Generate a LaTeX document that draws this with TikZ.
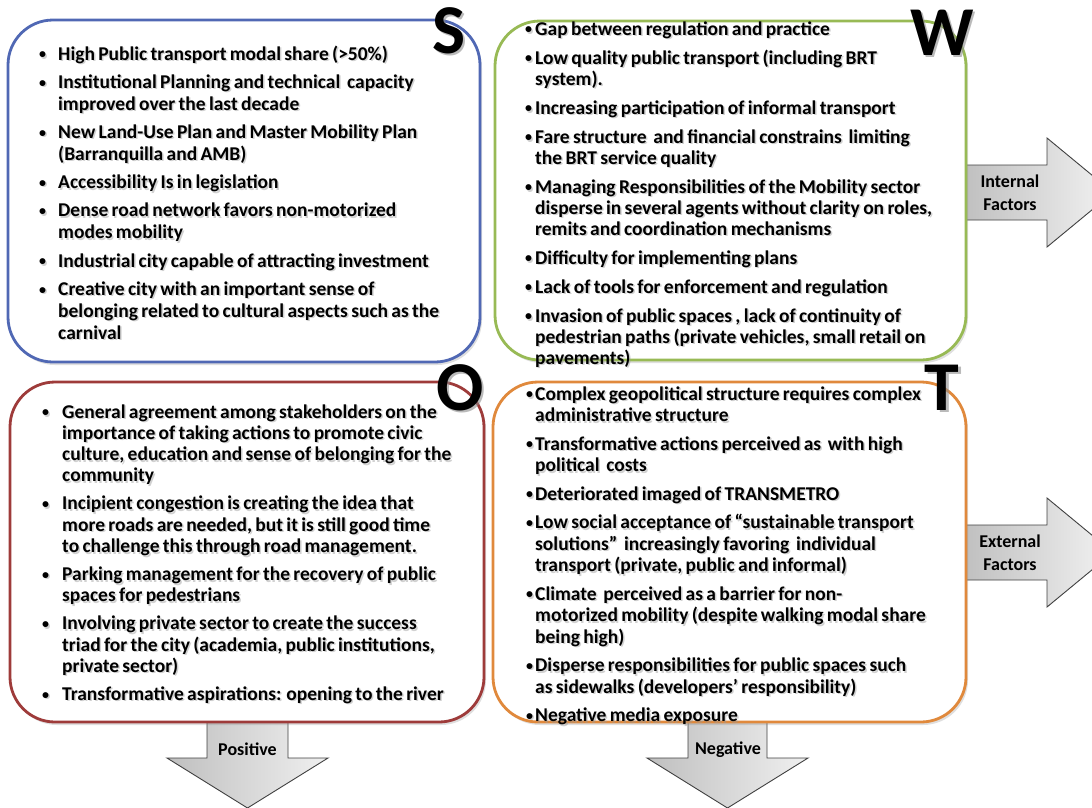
\documentclass[tikz,border=0pt]{standalone}
\usepackage{fontspec}
\setmainfont{Carlito}
\usetikzlibrary{shadows}

\definecolor{sblue}{HTML}{5068B4}
\definecolor{wgreen}{HTML}{98BA55}
\definecolor{ored}{HTML}{9E3B3A}
\definecolor{torange}{HTML}{E0893C}

% bullet list helpers for the four quadrants
\newlength\bulletgap
\newcommand\listsetup[3]{\fontsize{19.5}{#1}\selectfont\bfseries\setlength\parskip{#2}\setlength\bulletgap{#3}}
\newcommand\smallbullet{\raisebox{1.2pt}{\fontsize{14}{14}\selectfont\textbullet}}
\newcommand\firstitm[1]{\noindent\llap{\smallbullet\hspace{\bulletgap}}#1}
\newcommand\itm[1]{\par\noindent\llap{\smallbullet\hspace{\bulletgap}}#1}

\newcommand\Sitems{\listsetup{22pt}{6.2pt}{12pt}%
\firstitm{High Public transport modal share (>50\%)}
\itm{Institutional Planning and technical\ \ capacity\newline improved over the last decade}
\itm{New Land-Use Plan and Master Mobility Plan\newline (Barranquilla and AMB)}
\itm{Accessibility Is in legislation}
\itm{Dense road network favors non-motorized\newline modes mobility}
\itm{Industrial city capable of attracting investment}
\itm{Creative city with an important sense of\newline belonging related to cultural aspects such as the\newline carnival}\par}

\newcommand\Witems{\listsetup{21pt}{8pt}{3pt}%
\firstitm{Gap between regulation and practice}
\itm{Low quality public transport (including BRT\newline system).}
\itm{Increasing participation of informal transport}
\itm{Fare structure\ \ and financial constrains\ \ limiting\newline the BRT service quality}
\itm{Managing Responsibilities of the Mobility sector\newline disperse in several agents without clarity on roles,\newline remits and coordination mechanisms}
\itm{Difficulty for implementing plans}
\itm{Lack of tools for enforcement and regulation}
\itm{Invasion of public spaces , lack of continuity of\newline pedestrian paths (private vehicles, small retail on\newline pavements)}\par}

\newcommand\Oitems{\listsetup{21.3pt}{6.7pt}{13pt}%
\firstitm{General agreement among stakeholders on the\newline importance of taking actions to promote civic\newline culture, education and sense of belonging for the\newline community}
\itm{Incipient congestion is creating the idea that\newline more roads are needed, but it is still good time\newline to challenge this through road management.}
\itm{Parking management for the recovery of public\newline spaces for pedestrians}
\itm{Involving private sector to create the success\newline triad for the city (academia, public institutions,\newline private sector)}
\itm{Transformative aspirations: opening to the river}\par}

\newcommand\Titems{\listsetup{21.5pt}{7pt}{2pt}%
\firstitm{Complex geopolitical structure requires complex\newline administrative structure}
\itm{Transformative actions perceived as\ \ with high\newline political\ \ costs}
\itm{Deteriorated imaged of TRANSMETRO}
\itm{Low social acceptance of “sustainable transport\newline solutions”\ \ increasingly favoring\ \ individual\newline transport (private, public and informal)}
\itm{Climate\ \ perceived as a barrier for non-\newline motorized mobility (despite walking modal share\newline being high)}
\itm{Disperse responsibilities for public spaces such\newline as sidewalks (developers’ responsibility)}
\itm{Negative media exposure}\par}

\begin{document}
\begin{tikzpicture}[x=1pt,y=-1pt,
  swotbox/.style={line width=2.8pt, rounded corners=45pt, fill=white,
    drop shadow={shadow xshift=2pt, shadow yshift=-3pt, opacity=0.25}},
  listtext/.style={anchor=base west, inner sep=0pt, text width=440pt, align=left},
  listshadow/.style={listtext, text=black!40, opacity=0.45, xshift=1.5pt, yshift=-1.5pt},
  bigletter/.style={anchor=base, inner sep=0pt, font=\fontsize{70}{70}\selectfont\bfseries},
  lettershadow/.style={bigletter, text=black!45, opacity=0.6, xshift=2.5pt, yshift=-2.5pt},
  harrow/.style={draw=black!75, line width=0.9pt, left color=gray!50, right color=gray!10},
  varrow/.style={draw=black!75, line width=0.9pt, left color=gray!50, right color=gray!12},
  arrowlabel/.style={inner sep=0pt, align=center, font=\fontsize{18}{23}\selectfont\bfseries}
]
\useasboundingbox (0,0) rectangle (1092,807);

% factor arrows (drawn first, the boxes cover their roots)
\begin{scope}
\clip (0,0) rectangle (1092,807);
\path[harrow] (963,165) -- (1047,165) -- (1047,138) -- (1113,192.5) -- (1047,247) -- (1047,220) -- (963,220) -- cycle;
\path[harrow] (963,525) -- (1047,525) -- (1047,498) -- (1113,552.5) -- (1047,607) -- (1047,580) -- (963,580) -- cycle;
\path[varrow] (207,719) -- (288,719) -- (288,758) -- (328,758) -- (247.5,808) -- (167,758) -- (207,758) -- cycle;
\path[varrow] (688,719) -- (767,719) -- (767,758) -- (808,758) -- (727.5,808) -- (647,758) -- (688,758) -- cycle;
\end{scope}
\node[arrowlabel] (internal) at (1010,192.5) {Internal\\Factors};
\node[arrowlabel] (external) at (1010,552.5) {External\\Factors};
\node[arrowlabel, anchor=base] (positive) at (247.5,755) {Positive};
\node[arrowlabel, anchor=base] (negative) at (728,754) {Negative};

% quadrant frames
\path[swotbox, draw=sblue]   (8,20)   rectangle (480,362);
\path[swotbox, draw=wgreen]  (495,21) rectangle (966,360);
\path[swotbox, draw=ored]    (10,382) rectangle (484,722);
\path[swotbox, draw=torange] (493,382) rectangle (966,722);

% quadrant lists
\node[listshadow] (sshade) at (58,60)   {\Sitems};
\node[listtext]   (slist)  at (58,60)   {\Sitems};
\node[listshadow] (wshade) at (535,35)  {\Witems};
\node[listtext]   (wlist)  at (535,35)  {\Witems};
\node[listshadow] (oshade) at (62,418)  {\Oitems};
\node[listtext]   (olist)  at (62,418)  {\Oitems};
\node[listshadow] (tshade) at (535,400) {\Titems};
\node[listtext]   (tlist)  at (535,400) {\Titems};

% quadrant letters
\node[lettershadow] (sshadow) at (449,53)  {S};
\node[bigletter]    (sletter) at (449,53)  {S};
\node[lettershadow] (wshadow) at (942,55)  {W};
\node[bigletter]    (wletter) at (942,55)  {W};
\node[lettershadow] (oshadow) at (460,410) {O};
\node[bigletter]    (oletter) at (460,410) {O};
\node[lettershadow] (tshadow) at (942,410) {T};
\node[bigletter]    (tletter) at (942,410) {T};
\end{tikzpicture}
\end{document}
